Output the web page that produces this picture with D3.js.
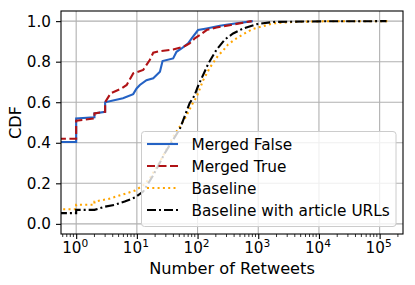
<!DOCTYPE html>
<html>
<head>
<meta charset="utf-8">
<script src="https://cdn.jsdelivr.net/npm/d3@7"></script>
<style>
  body { margin: 0; background: #fff; }
  text { font-family: "DejaVu Sans", sans-serif; fill: #000; }
</style>
</head>
<body>
<div class="cdfchart"></div>
<script>
// values
const mergedFalseX = [0.5, 1, 1, 2, 2, 3, 3, 5.9, 8.7, 9.9, 11.2, 14.4, 18.6, 24, 26.5, 39.6, 45, 54.5, 70, 80, 102, 141, 233, 339, 814];
const mergedFalseY = [0.404, 0.404, 0.52, 0.526, 0.545, 0.553, 0.60, 0.62, 0.64, 0.668, 0.685, 0.709, 0.718, 0.75, 0.803, 0.816, 0.849, 0.865, 0.89, 0.915, 0.956, 0.964, 0.977, 0.985, 1.0];

const mergedTrueX = [0.5, 1, 1, 2, 2, 3, 3, 3.7, 5.6, 6.8, 8.7, 12.7, 16.3, 18.6, 24, 39.6, 58, 74, 90, 109, 141, 205, 339, 780];
const mergedTrueY = [0.42, 0.42, 0.509, 0.52, 0.545, 0.553, 0.60, 0.644, 0.668, 0.685, 0.742, 0.759, 0.808, 0.844, 0.852, 0.86, 0.873, 0.89, 0.915, 0.931, 0.956, 0.969, 0.98, 1.0];

const baselineX = [0.5, 1, 1, 2, 2, 3.4, 5.6, 9.3, 12.7, 16.4, 24, 39.6, 51, 62, 85, 96, 124, 159, 218, 264, 318, 438, 640, 826, 1770, 3700, 10000, 135000];
const baselineY = [0.072, 0.072, 0.094, 0.094, 0.11, 0.123, 0.143, 0.164, 0.19, 0.225, 0.307, 0.43, 0.48, 0.52, 0.60, 0.625, 0.709, 0.77, 0.83, 0.855, 0.885, 0.915, 0.945, 0.962, 0.989, 0.996, 0.999, 1.0];

const articleX = [0.5, 1, 1, 2, 3, 4.3, 6.3, 9.3, 12.7, 18.6, 29, 51, 74, 88, 102, 150, 206, 250, 283, 385, 565, 935, 1770, 10000, 130000];
const articleY = [0.053, 0.053, 0.069, 0.069, 0.085, 0.094, 0.11, 0.13, 0.159, 0.24, 0.35, 0.468, 0.595, 0.63, 0.68, 0.79, 0.86, 0.89, 0.91, 0.939, 0.964, 0.985, 0.996, 0.999, 1.0];

const seriesNames = ["Merged False", "Merged True", "Baseline", "Baseline with article URLs"];
const xTickExps = [0, 1, 2, 3, 4, 5];
const yTickValues = [0.0, 0.2, 0.4, 0.6, 0.8, 1.0];

const width = 415, height = 285;
const margin = {top: 11, right: 12, bottom: 51, left: 61};

const series = [
    {name: seriesNames[0], xs: mergedFalseX, ys: mergedFalseY, color: "#2462c4", dash: null},
    {name: seriesNames[1], xs: mergedTrueX, ys: mergedTrueY, color: "#b01316", dash: "8,3.5"},
    {name: seriesNames[2], xs: baselineX, ys: baselineY, color: "#ffa500", dash: "2,3.3"},
    {name: seriesNames[3], xs: articleX, ys: articleY, color: "#000000", dash: "9,3,2,3"}
];

const svg = d3.select('.cdfchart')
    .append('svg')
    .attr('width', width)
    .attr('height', height);

const xScale = d3.scaleLog()
    .domain([Math.pow(10, -0.25), Math.pow(10, 5.385)])
    .range([margin.left, width - margin.right]);

const yScale = d3.scaleLinear()
    .domain([-0.05, 1.05])
    .range([height - margin.bottom, margin.top]);

// grid
svg.append("g")
    .selectAll("line")
    .data(xTickExps)
    .enter()
    .append("line")
    .attr("x1", function(d){ return xScale(Math.pow(10, d)); })
    .attr("x2", function(d){ return xScale(Math.pow(10, d)); })
    .attr("y1", margin.top)
    .attr("y2", height - margin.bottom)
    .attr("stroke", "#b0b0b0")
    .attr("stroke-width", 1.1);

svg.append("g")
    .selectAll("line")
    .data(yTickValues)
    .enter()
    .append("line")
    .attr("x1", margin.left)
    .attr("x2", width - margin.right)
    .attr("y1", function(d){ return yScale(d); })
    .attr("y2", function(d){ return yScale(d); })
    .attr("stroke", "#b0b0b0")
    .attr("stroke-width", 1.1);

// clip for the lines
svg.append("clipPath")
    .attr("id", "plotclip")
    .append("rect")
    .attr("x", margin.left)
    .attr("y", margin.top)
    .attr("width", width - margin.left - margin.right)
    .attr("height", height - margin.top - margin.bottom);

const line = d3.line()
    .x(function(d){ return xScale(d[0]); })
    .y(function(d){ return yScale(d[1]); });

svg.append("g")
    .attr("clip-path", "url(#plotclip)")
    .selectAll("path")
    .data(series)
    .enter()
    .append("path")
    .attr("fill", "none")
    .attr("stroke", function(d){ return d.color; })
    .attr("stroke-width", 2.1)
    .attr("stroke-dasharray", function(d){ return d.dash; })
    .attr("d", function(d){
        return line(d.xs.map(function(x, i){ return [x, d.ys[i]]; }));
    });

// axes
const xAxis = d3.axisBottom(xScale)
    .tickValues(xTickExps.map(function(e){ return Math.pow(10, e); }))
    .tickSize(5)
    .tickFormat("");
const gx = svg.append("g")
    .attr("transform", "translate(0," + (height - margin.bottom) + ")")
    .call(xAxis);

// minor ticks on the log axis
const minorTicks = [];
for (let e = -1; e <= 5; e++) {
    for (let m = 2; m <= 9; m++) {
        const v = m * Math.pow(10, e);
        if (v > xScale.domain()[0] && v < xScale.domain()[1]) minorTicks.push(v);
    }
}
svg.append("g")
    .selectAll("line")
    .data(minorTicks)
    .enter()
    .append("line")
    .attr("x1", function(d){ return xScale(d); })
    .attr("x2", function(d){ return xScale(d); })
    .attr("y1", height - margin.bottom)
    .attr("y2", height - margin.bottom + 3)
    .attr("stroke", "#000")
    .attr("stroke-width", 0.8);

const yAxis = d3.axisLeft(yScale)
    .tickValues(yTickValues)
    .tickSize(5)
    .tickFormat("");
const gy = svg.append("g")
    .attr("transform", "translate(" + margin.left + ",0)")
    .call(yAxis);

[gx, gy].forEach(function(g){
    g.select(".domain").remove();
    g.selectAll(".tick line").attr("stroke", "#000").attr("stroke-width", 1.1);
});

// tick labels
const xLabels = svg.append("g")
    .selectAll("text")
    .data(xTickExps)
    .enter()
    .append("text")
    .attr("x", function(d){ return xScale(Math.pow(10, d)) - 1; })
    .attr("y", 253)
    .attr("text-anchor", "middle")
    .style("font-size", "15.2px");
xLabels.append("tspan").text("10");
xLabels.append("tspan")
    .attr("dy", -6)
    .style("font-size", "10.6px")
    .text(function(d){ return d; });

svg.append("g")
    .selectAll("text")
    .data(yTickValues)
    .enter()
    .append("text")
    .attr("x", 51)
    .attr("y", function(d){ return yScale(d); })
    .attr("dy", "0.36em")
    .attr("text-anchor", "end")
    .style("font-size", "15.2px")
    .text(function(d){ return d.toFixed(1); });

// frame
svg.append("rect")
    .attr("x", margin.left)
    .attr("y", margin.top)
    .attr("width", width - margin.left - margin.right)
    .attr("height", height - margin.top - margin.bottom)
    .attr("fill", "none")
    .attr("stroke", "#000")
    .attr("stroke-width", 1.1);

// axis titles
svg.append("text")
    .attr("x", (margin.left + width - margin.right) / 2)
    .attr("y", 273.5)
    .attr("text-anchor", "middle")
    .style("font-size", "16.2px")
    .text("Number of Retweets");

svg.append("text")
    .attr("transform", "translate(21," + ((margin.top + height - margin.bottom) / 2) + ") rotate(-90)")
    .attr("text-anchor", "middle")
    .style("font-size", "16.2px")
    .text("CDF");

// legend
const legend = svg.append("g");
legend.append("rect")
    .attr("x", 141.5)
    .attr("y", 131.5)
    .attr("width", 254.5)
    .attr("height", 95)
    .attr("rx", 3)
    .attr("fill", "#fff")
    .attr("fill-opacity", 0.8)
    .attr("stroke", "#cccccc")
    .attr("stroke-width", 1);

const items = legend.selectAll(".item")
    .data(series)
    .enter()
    .append("g")
    .attr("class", "item")
    .attr("transform", function(d, i){ return "translate(0," + (144 + i * 22) + ")"; });

items.append("line")
    .attr("x1", 147)
    .attr("x2", 178)
    .attr("y1", 0)
    .attr("y2", 0)
    .attr("stroke", function(d){ return d.color; })
    .attr("stroke-width", 2.1)
    .attr("stroke-dasharray", function(d){ return d.dash; });

items.append("text")
    .attr("x", 191.5)
    .attr("y", 0)
    .attr("dy", "0.36em")
    .style("font-size", "15.3px")
    .text(function(d){ return d.name; });
</script>
</body>
</html>
